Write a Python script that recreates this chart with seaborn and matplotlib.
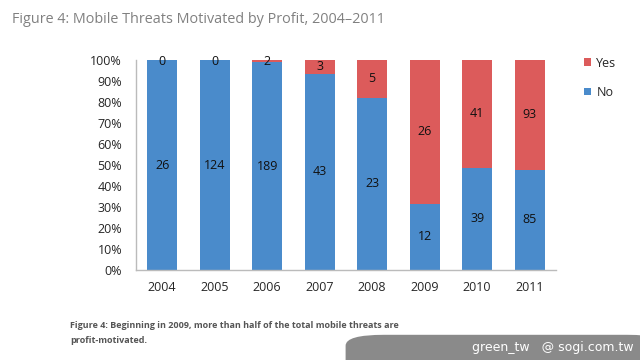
import pandas as pd
import matplotlib.pyplot as plt
import seaborn as sns
from matplotlib.patches import FancyBboxPatch

# Data
years = ["2004", "2005", "2006", "2007", "2008", "2009", "2010", "2011"]
no_counts = [26, 124, 189, 43, 23, 12, 39, 85]
yes_counts = [0, 0, 2, 3, 5, 26, 41, 93]

df = pd.DataFrame({"year": years, "no": no_counts, "yes": yes_counts})
df["total"] = df["no"] + df["yes"]
df["no_pct"] = df["no"] / df["total"] * 100
df["yes_pct"] = df["yes"] / df["total"] * 100
df["all_pct"] = 100.0

blue = "#4a8bcb"
red = "#dc5b5b"

sns.set_style("white")
plt.rcParams["font.family"] = ["Open Sans", "DejaVu Sans"]

fig = plt.figure(figsize=(6.4, 3.6), dpi=100)
ax = fig.add_axes([0.2125, 0.25, 0.656, 0.583])

sns.barplot(data=df, x="year", y="all_pct", color=red, width=0.57,
            saturation=1, linewidth=0, ax=ax, label="Yes")
sns.barplot(data=df, x="year", y="no_pct", color=blue, width=0.57,
            saturation=1, linewidth=0, ax=ax, label="No")

# segment labels
for i, row in df.iterrows():
    ax.text(i, row["no_pct"] / 2, str(row["no"]), ha="center", va="center",
            fontsize=9, color="#111111")
    ypos = row["no_pct"] + row["yes_pct"] / 2
    if row["yes_pct"] < 3:
        ypos = 99.5
    ax.text(i, ypos, str(row["yes"]), ha="center", va="center",
            fontsize=9, color="#111111")

ax.set_ylim(0, 100)
ax.set_xlim(-0.5, 7.5)
ax.set_yticks(range(0, 101, 10))
ax.set_yticklabels([f"{v}%" for v in range(0, 101, 10)], fontsize=9)
ax.tick_params(axis="x", labelsize=9, length=0, pad=8)
ax.tick_params(axis="y", length=0, pad=10)
ax.set_xlabel("")
ax.set_ylabel("")
for s in ["top", "right"]:
    ax.spines[s].set_visible(False)
for s in ["left", "bottom"]:
    ax.spines[s].set_color("#bbbbbb")
    ax.spines[s].set_linewidth(1)

leg = ax.legend(loc="upper left", bbox_to_anchor=(1.04, 1.07), frameon=False,
                fontsize=9, handlelength=0.6, handleheight=0.6,
                labelspacing=1.3, handletextpad=0.4)

fig.text(0.019, 0.945, "Figure 4: Mobile Threats Motivated by Profit, 2004\u20132011",
         fontsize=10.4, color="#808080", ha="left", va="center")
fig.text(0.11, 0.075, "Figure 4: Beginning in 2009, more than half of the total mobile threats are\nprofit-motivated.",
         fontsize=6.5, color="#555555", fontweight="bold", ha="left", va="center",
         linespacing=1.9)

# watermark
box = FancyBboxPatch((0.54, -0.05), 0.5, 0.12, boxstyle="round,pad=0,rounding_size=0.06",
                     transform=fig.transFigure, facecolor="#8a8a8a", edgecolor="none",
                     mutation_aspect=0.5)
fig.patches.append(box)
fig.text(0.99, 0.035, "green_tw   @ sogi.com.tw", fontsize=9, color="white",
         ha="right", va="center", family=["Liberation Sans Narrow", "DejaVu Sans"])

fig.savefig("out.png", dpi=100, facecolor="white")
